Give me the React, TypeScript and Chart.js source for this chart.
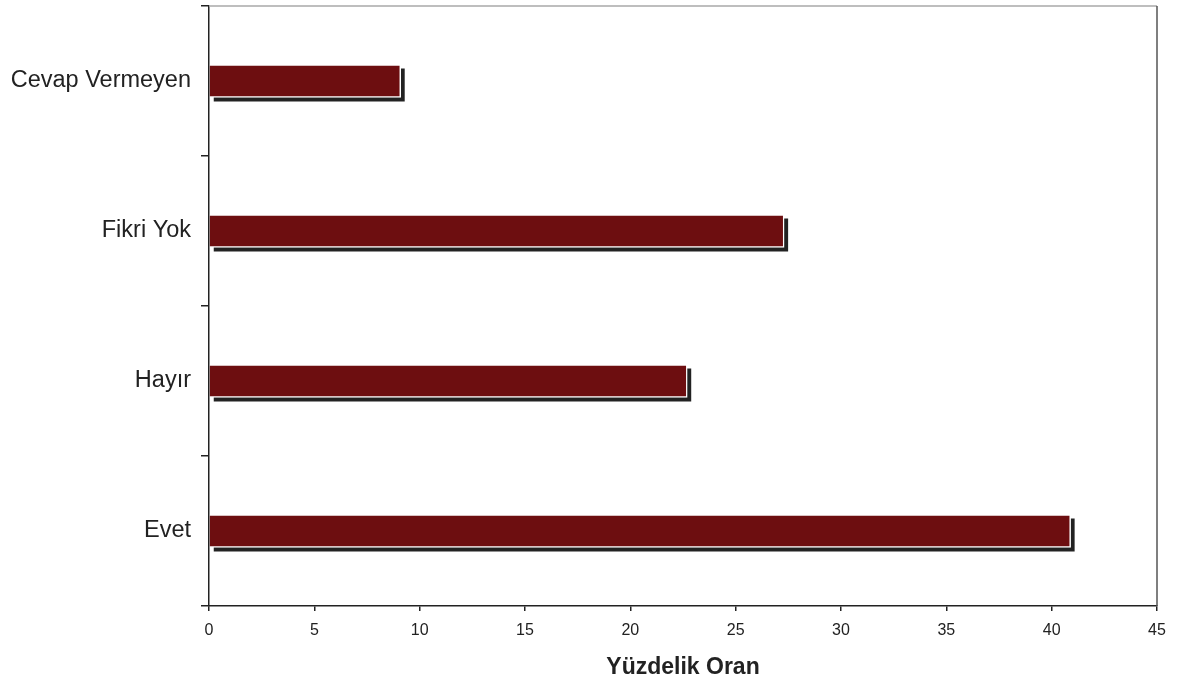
import React, { useEffect, useRef } from "react";
import { Chart, registerables } from "chart.js";

Chart.register(...registerables);

const categories = ["Cevap Vermeyen", "Fikri Yok", "Hayır", "Evet"];
const values = [9.1, 27.3, 22.7, 40.9];
const xMin = 0;
const xMax = 45;
const xStep = 5;
const axisTitle = "Yüzdelik Oran";

const BAR_COLOR = "#6d0e10";
const SHADOW_COLOR = "#222222";
const TEXT_COLOR = "#222222";
const FONT = "'Liberation Sans', Arial, sans-serif";

const shadowPlugin = {
  id: "barShadow",
  beforeDatasetsDraw(chart: any) {
    const ctx = chart.ctx;
    const meta = chart.getDatasetMeta(0);
    ctx.save();
    ctx.fillStyle = SHADOW_COLOR;
    meta.data.forEach((el: any) => {
      const { x, y, base, height } = el.getProps(["x", "y", "base", "height"], true);
      const left = Math.min(x, base);
      ctx.fillRect(left + 4, y - height / 2 + 4, Math.abs(x - base), height);
    });
    ctx.restore();
  },
};

const framePlugin = {
  id: "frame",
  afterDraw(chart: any) {
    const { ctx, chartArea } = chart;
    ctx.save();
    ctx.lineWidth = 1.5;
    ctx.strokeStyle = "#a8a8a8";
    ctx.beginPath();
    ctx.moveTo(chartArea.left, chartArea.top);
    ctx.lineTo(chartArea.right, chartArea.top);
    ctx.stroke();
    ctx.strokeStyle = "#555555";
    ctx.beginPath();
    ctx.moveTo(chartArea.right, chartArea.top);
    ctx.lineTo(chartArea.right, chartArea.bottom);
    ctx.stroke();
    ctx.restore();
  },
};

export default function App() {
  const canvasRef = useRef<HTMLCanvasElement | null>(null);

  useEffect(() => {
    if (!canvasRef.current) return;
    const chart = new Chart(canvasRef.current, {
      type: "bar",
      data: {
        labels: categories,
        datasets: [
          {
            data: values,
            backgroundColor: BAR_COLOR,
            borderColor: "#ffffff",
            borderWidth: 1.5,
            barThickness: 33,
          },
        ],
      },
      options: {
        indexAxis: "y",
        animation: false,
        responsive: false,
        layout: { padding: { left: 0, top: 6, right: 22, bottom: 0 } },
        plugins: {
          legend: { display: false },
          tooltip: { enabled: false },
        },
        scales: {
          x: {
            type: "linear",
            min: xMin,
            max: xMax,
            ticks: {
              stepSize: xStep,
              color: TEXT_COLOR,
              font: { family: FONT, size: 16 },
              padding: 10,
            },
            grid: {
              drawOnChartArea: false,
              drawTicks: true,
              tickLength: 5,
              color: "#222222",
              lineWidth: 1.5,
            },
            border: { color: "#222222", width: 1.5 },
            title: {
              display: true,
              text: axisTitle,
              color: TEXT_COLOR,
              font: { family: FONT, size: 23, weight: "bold" },
              padding: { top: 4, bottom: 5 },
            },
            afterFit(scale: any) {
              scale.height = 80;
              scale.paddingLeft = 0;
              scale.paddingRight = 0;
            },
          },
          y: {
            type: "category",
            ticks: {
              color: TEXT_COLOR,
              font: { family: FONT, size: 23.5 },
              padding: 10,
            },
            grid: {
              offset: true,
              drawOnChartArea: false,
              drawTicks: true,
              tickLength: 8,
              color: "#222222",
              lineWidth: 1.5,
            },
            border: { color: "#222222", width: 1.5 },
            afterFit(scale: any) {
              scale.width = 209;
              scale.paddingTop = 0;
              scale.paddingBottom = 0;
            },
          },
        },
      },
      plugins: [shadowPlugin, framePlugin],
    } as any);
    return () => chart.destroy();
  }, []);

  return (
    <div style={{ position: "fixed", left: 0, top: 0, width: 1179, height: 686, background: "#ffffff" }}>
      <canvas ref={canvasRef} width={1179} height={686} style={{ display: "block" }} />
    </div>
  );
}
